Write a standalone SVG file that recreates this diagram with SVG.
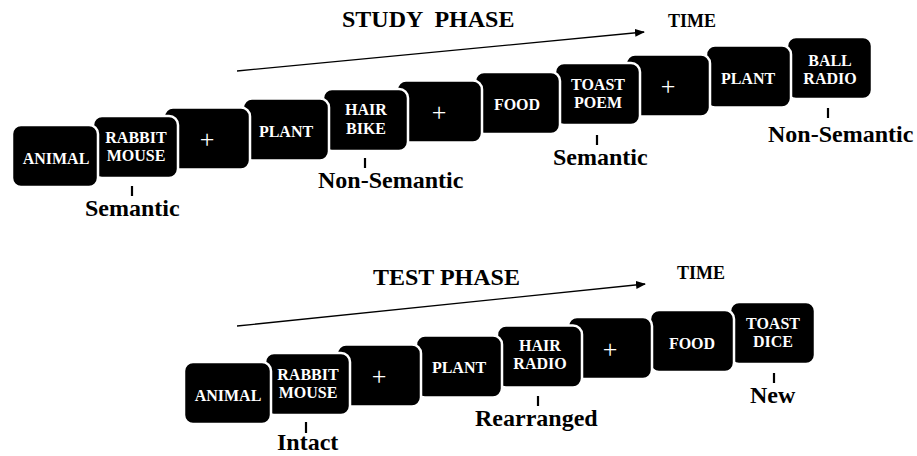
<svg xmlns="http://www.w3.org/2000/svg" width="917" height="456" viewBox="0 0 917 456">
<style>
.box{fill:#000;stroke:#fff;stroke-width:2.5}
.bt{font-family:"Liberation Serif","Times New Roman",serif;font-weight:bold;font-size:16px;fill:#fff;text-anchor:middle}
.plus{font-family:"Liberation Serif","Times New Roman",serif;font-size:26px;fill:#fff;text-anchor:middle}
.lab{font-family:"Liberation Serif","Times New Roman",serif;font-weight:bold;font-size:24px;fill:#000}
.title{font-family:"Liberation Serif","Times New Roman",serif;font-weight:bold;font-size:24px;fill:#000;white-space:pre}
.time{font-family:"Liberation Serif","Times New Roman",serif;font-weight:bold;font-size:18px;fill:#000}
.tick{stroke:#000;stroke-width:2.2}
.arr{stroke:#000;stroke-width:1.3;fill:none}
</style>
<defs>
<marker id="ah" markerWidth="10" markerHeight="8" refX="9" refY="4" orient="auto" markerUnits="userSpaceOnUse">
<path d="M0,0 L10,4 L0,8 Z" fill="#000"/>
</marker>
</defs>
<rect width="917" height="456" fill="#fff"/>

<text class="title" x="342" y="27" xml:space="preserve">STUDY  PHASE</text>
<text class="time" x="668" y="27">TIME</text>
<text class="title" x="373" y="285">TEST PHASE</text>
<text class="time" x="677" y="279">TIME</text>

<g id="connectors">
<line class="arr" x1="237" y1="71" x2="644" y2="32" marker-end="url(#ah)"/>
<line class="arr" x1="237" y1="326" x2="645" y2="284" marker-end="url(#ah)"/>
<line class="tick" x1="132" y1="186" x2="132" y2="196"/>
<line class="tick" x1="365" y1="158" x2="365" y2="168"/>
<line class="tick" x1="597" y1="135" x2="597" y2="145"/>
<line class="tick" x1="828" y1="108" x2="828" y2="118"/>
<line class="tick" x1="306" y1="422" x2="306" y2="433"/>
<line class="tick" x1="538" y1="396" x2="538" y2="406"/>
<line class="tick" x1="774" y1="373" x2="774" y2="383"/>
</g>

<!-- Study phase (drawn back to front: leftmost card in front) -->
<g id="s10"><rect class="box" x="787" y="37" width="85" height="62" rx="9"/><text class="bt" x="830" y="66">BALL</text><text class="bt" x="830" y="84">RADIO</text></g>
<g id="s9"><rect class="box" x="706" y="45.5" width="85" height="62" rx="9"/><text class="bt" x="748" y="84">PLANT</text></g>
<g id="s8"><rect class="box" x="626" y="54.5" width="84" height="62" rx="9"/><text class="plus" x="668" y="95">+</text></g>
<g id="s7"><rect class="box" x="555" y="63" width="85" height="62" rx="9"/><text class="bt" x="598" y="90">TOAST</text><text class="bt" x="598" y="108">POEM</text></g>
<g id="s6"><rect class="box" x="475" y="72" width="85" height="62" rx="9"/><text class="bt" x="517" y="110">FOOD</text></g>
<g id="s5"><rect class="box" x="397" y="80.5" width="85" height="62" rx="9"/><text class="plus" x="439" y="121">+</text></g>
<g id="s4"><rect class="box" x="323" y="89" width="85" height="62" rx="9"/><text class="bt" x="366" y="115">HAIR</text><text class="bt" x="366" y="134">BIKE</text></g>
<g id="s3"><rect class="box" x="243" y="98.5" width="86" height="62" rx="9"/><text class="bt" x="286" y="137">PLANT</text></g>
<g id="s2"><rect class="box" x="164" y="107.5" width="86" height="62" rx="9"/><text class="plus" x="207" y="148">+</text></g>
<g id="s1"><rect class="box" x="93" y="116" width="85" height="62" rx="9"/><text class="bt" x="136" y="143">RABBIT</text><text class="bt" x="136" y="161">MOUSE</text></g>
<g id="s0"><rect class="box" x="12" y="125" width="86" height="62" rx="9"/><text class="bt" x="56" y="164">ANIMAL</text></g>

<!-- Test phase (drawn back to front) -->
<g id="t7"><rect class="box" x="730" y="302" width="85" height="62" rx="9"/><text class="bt" x="773" y="329">TOAST</text><text class="bt" x="773" y="347">DICE</text></g>
<g id="t6"><rect class="box" x="650" y="310" width="84" height="62" rx="9"/><text class="bt" x="692" y="349">FOOD</text></g>
<g id="t5"><rect class="box" x="568" y="317" width="84" height="62" rx="9"/><text class="plus" x="610" y="358">+</text></g>
<g id="t4"><rect class="box" x="497" y="325.5" width="85" height="62" rx="9"/><text class="bt" x="540" y="351">HAIR</text><text class="bt" x="540" y="369">RADIO</text></g>
<g id="t3"><rect class="box" x="416" y="335.5" width="86" height="62" rx="9"/><text class="bt" x="459" y="373">PLANT</text></g>
<g id="t2"><rect class="box" x="337" y="344.5" width="84" height="62" rx="9"/><text class="plus" x="379" y="385">+</text></g>
<g id="t1"><rect class="box" x="265" y="353" width="85" height="62" rx="9"/><text class="bt" x="308" y="380">RABBIT</text><text class="bt" x="308" y="398">MOUSE</text></g>
<g id="t0"><rect class="box" x="184" y="362" width="87" height="62" rx="9"/><text class="bt" x="228" y="401">ANIMAL</text></g>

<!-- Labels -->
<text class="lab" x="85" y="216">Semantic</text>
<text class="lab" x="318" y="188">Non-Semantic</text>
<text class="lab" x="553" y="165">Semantic</text>
<text class="lab" x="768" y="142">Non-Semantic</text>
<text class="lab" x="277" y="450">Intact</text>
<text class="lab" x="475" y="426">Rearranged</text>
<text class="lab" x="750" y="403">New</text>
</svg>
